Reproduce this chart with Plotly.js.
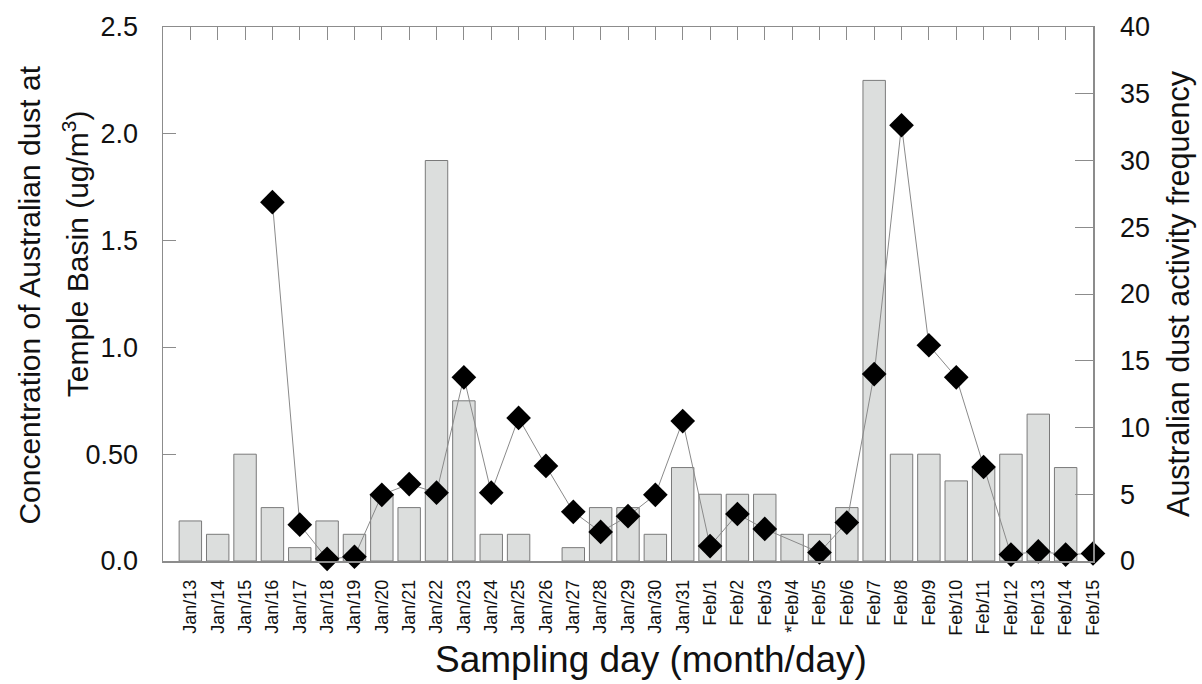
<!DOCTYPE html>
<html>
<head>
<meta charset="utf-8">
<script src="https://cdn.plot.ly/plotly-3.0.1.min.js"></script>
<style>
  html, body { margin: 0; padding: 0; background: #ffffff; }
  #chart { width: 1202px; height: 684px; }
</style>
</head>
<body>
<div id="chart"></div>
<script>
// Sampling days, Temple Basin campaign
const days = [
  "Jan/13", "Jan/14", "Jan/15", "Jan/16", "Jan/17", "Jan/18", "Jan/19", "Jan/20",
  "Jan/21", "Jan/22", "Jan/23", "Jan/24", "Jan/25", "Jan/26", "Jan/27", "Jan/28",
  "Jan/29", "Jan/30", "Jan/31", "Feb/1", "Feb/2", "Feb/3", "*Feb/4", "Feb/5",
  "Feb/6", "Feb/7", "Feb/8", "Feb/9", "Feb/10", "Feb/11", "Feb/12", "Feb/13",
  "Feb/14", "Feb/15"
];

// Australian dust activity frequency (bars, right axis)
const activityFrequency = [
  3, 2, 8, 4, 1, 3, 2, 5,
  4, 30, 12, 2, 2, 0, 1, 4,
  4, 2, 7, 5, 5, 5, 2, 2,
  4, 36, 8, 8, 6, 7, 8, 11,
  7, 0
];

// Concentration of Australian dust at Temple Basin, ug/m3 (diamonds, left axis)
const dustConcentration = [
  null, null, null, 1.68, 0.17, 0.01, 0.02, 0.31,
  0.36, 0.32, 0.86, 0.32, 0.67, 0.445, 0.23, 0.136,
  0.21, 0.31, 0.655, 0.07, 0.22, 0.15, null, 0.04,
  0.18, 0.875, 2.04, 1.01, 0.86, 0.44, 0.03, 0.045,
  0.03, 0.035
];

// Left axis tick labels
const concTickVals = [0, 0.5, 1.0, 1.5, 2.0, 2.5];
const concTickText = ["0.0", "0.50", "1.0", "1.5", "2.0", "2.5"];

// Left axis title, one entry per line
const concTitleLines = ["Concentration of Australian dust at", "Temple Basin (ug/m<sup>3</sup>)"];

const FONT = "Liberation Sans, Arial, sans-serif";
const INK = "#111111";
const FRAME = "#8c8c8c";

const bars = {
  type: "bar",
  x: days,
  y: activityFrequency,
  xaxis: "x",
  yaxis: "y",
  width: 0.82,
  marker: {
    color: "#dcdedd",
    // empty days get no outline so nothing is drawn for them
    line: { color: "#7a7a7a", width: activityFrequency.map(v => (v > 0 ? 1 : 0)) }
  },
  hoverinfo: "x+y",
  showlegend: false
};

const diamonds = {
  type: "scatter",
  mode: "lines+markers",
  x: days,
  y: dustConcentration,
  xaxis: "x2",
  yaxis: "y2",
  connectgaps: true,
  line: { color: "#8a8a8a", width: 1 },
  marker: { symbol: "diamond", size: 19, color: "#000000", line: { width: 0 } },
  cliponaxis: false,
  showlegend: false
};

// Title texts placed in the margins
const titleFont = (size) => ({ size: size, family: FONT, color: INK });
const annotations = [
  {
    text: concTitleLines[0],
    xref: "paper", yref: "paper",
    x: -0.143, y: 0.497,
    xanchor: "center", yanchor: "middle",
    textangle: -90,
    showarrow: false,
    font: titleFont(30)
  },
  {
    text: concTitleLines[1],
    xref: "paper", yref: "paper",
    x: -0.094, y: 0.5755,
    xanchor: "center", yanchor: "middle",
    textangle: -90,
    showarrow: false,
    font: titleFont(30)
  },
  {
    text: "Sampling day (month/day)",
    xref: "paper", yref: "paper",
    x: 0.525, y: -0.185,
    xanchor: "center", yanchor: "middle",
    showarrow: false,
    font: titleFont(37)
  }
];

const layout = {
  width: 1202,
  height: 684,
  margin: { l: 163, r: 109, t: 27, b: 123 },
  paper_bgcolor: "#ffffff",
  plot_bgcolor: "#ffffff",
  font: { family: FONT, color: INK },
  xaxis: {
    type: "category",
    categoryorder: "array",
    categoryarray: days,
    range: [-1, 33],
    showline: true,
    linecolor: FRAME,
    linewidth: 1.5,
    mirror: true,
    ticks: "",
    showgrid: false,
    zeroline: false,
    tickangle: -90,
    tickfont: { size: 18, family: FONT, color: INK },
    ticklabelstandoff: 10
  },
  xaxis2: {
    type: "category",
    categoryorder: "array",
    categoryarray: days,
    range: [-1, 33],
    overlaying: "x",
    side: "top",
    showline: false,
    ticks: "inside",
    ticklen: 13,
    tickwidth: 1,
    tickcolor: FRAME,
    showticklabels: false,
    showgrid: false,
    zeroline: false
  },
  yaxis: {
    side: "right",
    range: [0, 40],
    dtick: 5,
    tick0: 0,
    showline: true,
    linecolor: FRAME,
    linewidth: 1.5,
    ticks: "inside",
    ticklen: 18,
    tickwidth: 1,
    tickcolor: FRAME,
    showgrid: false,
    zeroline: false,
    tickfont: { size: 27, family: FONT, color: INK },
    ticklabelstandoff: 20,
    title: {
      text: "Australian dust activity frequency",
      font: { size: 30.5, family: FONT, color: INK },
      standoff: 18
    }
  },
  yaxis2: {
    side: "left",
    overlaying: "y",
    range: [0, 2.5],
    tickvals: concTickVals,
    ticktext: concTickText,
    showline: true,
    linecolor: FRAME,
    linewidth: 1.5,
    ticks: "inside",
    ticklen: 13,
    tickwidth: 1,
    tickcolor: FRAME,
    showgrid: false,
    zeroline: false,
    tickfont: { size: 27, family: FONT, color: INK },
    ticklabelstandoff: 18
  },
  annotations: annotations
};

Plotly.newPlot("chart", [bars, diamonds], layout, { displayModeBar: false, staticPlot: true });
</script>
</body>
</html>
